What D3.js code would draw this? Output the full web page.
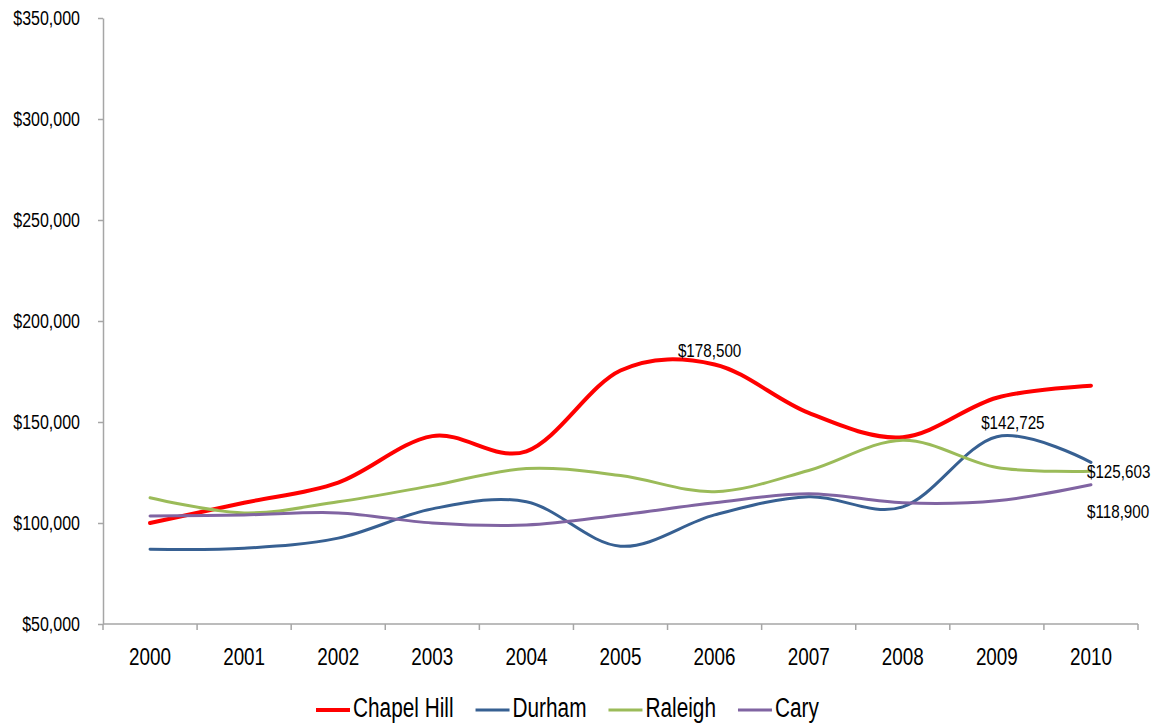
<!DOCTYPE html>
<html>
<head>
<meta charset="utf-8">
<script src="https://cdn.jsdelivr.net/npm/d3@7"></script>
<style>
  html, body { margin: 0; padding: 0; background: #fff; }
  svg { display: block; }
  text { font-family: "Liberation Sans Narrow", "Arial Narrow", "Liberation Sans", Arial, sans-serif; fill: #000; }
</style>
</head>
<body>
<svg id="chart" width="1155" height="724"></svg>
<script>
// Median home prices by town, 2000–2010
const years = ["2000","2001","2002","2003","2004","2005","2006","2007","2008","2009","2010"];
const chapelHill = [100000,110000,120000,143000,135500,175500,178500,154500,142500,162000,168000];
const durham     = [87000,87500,92500,107000,110500,88500,104000,113000,108000,142725,130000];
const raleigh    = [112500,105000,110500,118500,127000,123500,115500,126000,141000,127500,125603];
const cary       = [103500,104000,105000,100000,99000,104000,110000,114500,110000,111000,118900];
const yTicks = [50000,100000,150000,200000,250000,300000,350000];

const series = [
  { name: "Chapel Hill", values: chapelHill, color: "#FF0000", width: 4 },
  { name: "Durham",      values: durham,     color: "#376092", width: 3 },
  { name: "Raleigh",     values: raleigh,    color: "#9BBB59", width: 3 },
  { name: "Cary",        values: cary,       color: "#8064A2", width: 3 }
];

// Value labels: [series index, year index, placement]
const valueLabels = [
  { s: 0, i: 6, place: "above" },
  { s: 1, i: 9, place: "aboveRight" },
  { s: 2, i: 10, place: "right" },
  { s: 3, i: 10, place: "belowRight" }
];

const svg = d3.select("#chart");
const margin = { left: 103, right: 17, top: 18, bottom: 100 };
const W = 1155, H = 724;

const x = d3.scaleBand().domain(years).range([margin.left, W - margin.right]);
const y = d3.scaleLinear().domain([50000, 350000]).range([H - margin.bottom, margin.top]);
const fmt = v => "$" + d3.format(",")(v);
const axisColor = "#A6A6A6";

// Condensed look: squeeze glyphs horizontally
function narrow(sel, factor) {
  sel.each(function () {
    const len = this.getComputedTextLength();
    d3.select(this).attr("textLength", len * factor).attr("lengthAdjust", "spacingAndGlyphs");
  });
}

// Y axis
const yAxis = svg.append("g")
  .attr("transform", `translate(${margin.left},0)`)
  .call(d3.axisLeft(y).tickValues(yTicks).tickFormat(fmt).tickSize(5).tickSizeOuter(0));
yAxis.attr("font-family", null).attr("font-size", 20);
yAxis.select(".domain").attr("stroke", axisColor).attr("stroke-width", 1.5);
yAxis.selectAll(".tick line").attr("stroke", axisColor).attr("stroke-width", 1.5);
yAxis.selectAll(".tick text").attr("x", -23).attr("font-size", 20)
  .call(narrow, 0.8);

// X axis: ticks sit on the band boundaries
const xAxisG = svg.append("g").attr("transform", `translate(0,${y(50000)})`);
xAxisG.append("line")
  .attr("x1", margin.left).attr("x2", W - margin.right)
  .attr("stroke", axisColor).attr("stroke-width", 1.5);
const bounds = years.map(d => x(d)).concat([x(years[years.length - 1]) + x.bandwidth()]);
xAxisG.selectAll("line.tk").data(bounds).join("line").attr("class", "tk")
  .attr("x1", d => d).attr("x2", d => d).attr("y1", 0).attr("y2", 6)
  .attr("stroke", axisColor).attr("stroke-width", 1.5);
xAxisG.selectAll("text").data(years).join("text")
  .attr("x", d => x(d) + x.bandwidth() / 2).attr("y", 35)
  .attr("text-anchor", "middle").attr("dominant-baseline", "middle")
  .attr("font-size", 23).text(d => d)
  .call(narrow, 0.82);

// Lines
const cx = d => x(d) + x.bandwidth() / 2;
const line = d3.line()
  .x((v, i) => cx(years[i]))
  .y(v => y(v))
  .curve(d3.curveCardinal.tension(0));

svg.append("g").selectAll("path").data(series).join("path")
  .attr("d", d => line(d.values))
  .attr("fill", "none")
  .attr("stroke", d => d.color)
  .attr("stroke-width", d => d.width)
  .attr("stroke-linejoin", "round")
  .attr("stroke-linecap", "round");

// Value labels
const lbl = svg.append("g");
valueLabels.forEach(l => {
  const v = series[l.s].values[l.i];
  const px = cx(years[l.i]), py = y(v);
  let tx = px, ty = py, anchor = "middle";
  if (l.place === "above") { tx = px - 5; ty = py - 12; }
  else if (l.place === "aboveRight") { tx = px + 16; ty = py - 13; }
  else if (l.place === "right") { tx = px - 4; ty = py + 2; anchor = "start"; }
  else if (l.place === "belowRight") { tx = px - 4; ty = py + 28; anchor = "start"; }
  lbl.append("text")
    .attr("x", tx).attr("y", ty)
    .attr("text-anchor", anchor).attr("dominant-baseline", "middle")
    .attr("font-size", 19).text(fmt(v))
    .call(narrow, 0.8);
});

// Legend
const legend = svg.append("g");
const legendY = 710;
let lx = 316;
series.forEach(s => {
  legend.append("line")
    .attr("x1", lx).attr("x2", lx + 34).attr("y1", legendY).attr("y2", legendY)
    .attr("stroke", s.color).attr("stroke-width", s.width);
  const t = legend.append("text")
    .attr("x", lx + 37).attr("y", legendY)
    .attr("dominant-baseline", "middle")
    .attr("font-size", 27).text(s.name)
    .call(narrow, 0.77);
  lx += 37 + +t.attr("textLength") + 22;
});
</script>
</body>
</html>
